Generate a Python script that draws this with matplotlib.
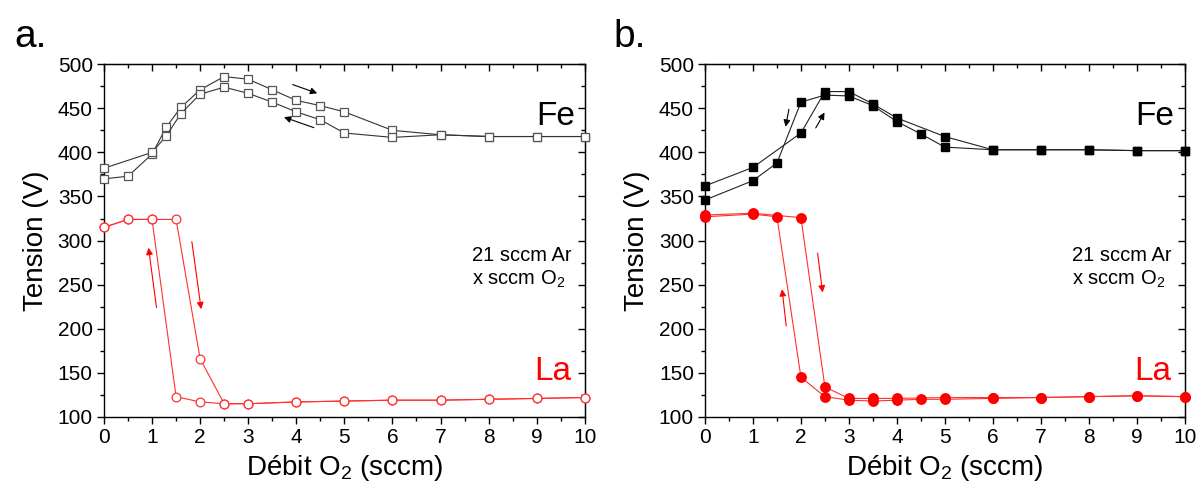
import numpy as np
import matplotlib.pyplot as plt
from matplotlib.ticker import MultipleLocator

plt.rcParams['font.family'] = ['Liberation Sans', 'DejaVu Sans']
plt.rcParams['mathtext.fontset'] = 'custom'
plt.rcParams['mathtext.rm'] = 'Liberation Sans'
plt.rcParams['mathtext.it'] = 'Liberation Sans'

# ---- panel a : open symbols ----
a_fe_up_x = [0, 0.5, 1, 1.3, 1.6, 2, 2.5, 3, 3.5, 4, 4.5, 5, 6, 7, 8, 9, 10]
a_fe_up_y = [370, 373, 398, 429, 451, 471, 486, 483, 471, 459, 453, 446, 425, 420, 418, 418, 418]
a_fe_dn_x = [10, 9, 8, 7, 6, 5, 4.5, 4, 3.5, 3, 2.5, 2, 1.6, 1.3, 1, 0]
a_fe_dn_y = [418, 418, 418, 420, 417, 422, 437, 446, 457, 467, 474, 466, 444, 419, 400, 382]

a_la_up_x = [0, 0.5, 1, 1.5, 2, 2.5, 3, 4, 5, 6, 7, 8, 9, 10]
a_la_up_y = [315, 324, 324, 324, 166, 115, 115, 117, 118, 119, 119, 120, 121, 122]
a_la_dn_x = [10, 9, 8, 7, 6, 5, 4, 3, 2.5, 2, 1.5, 1, 0.5, 0]
a_la_dn_y = [122, 121, 120, 119, 119, 118, 117, 115, 115, 117, 123, 324, 324, 315]

# ---- panel b : filled symbols ----
b_fe_up_x = [0, 1, 2, 2.5, 3, 3.5, 4, 5, 6, 7, 8, 9, 10]
b_fe_up_y = [362, 383, 422, 469, 469, 455, 439, 418, 403, 403, 403, 402, 402]
b_fe_dn_x = [10, 9, 8, 7, 6, 5, 4.5, 4, 3.5, 3, 2.5, 2, 1.5, 1, 0]
b_fe_dn_y = [402, 402, 403, 403, 403, 406, 421, 435, 453, 464, 465, 457, 388, 368, 346]

b_la_up_x = [0, 1, 2, 2.5, 3, 3.5, 4, 5, 6, 7, 8, 9, 10]
b_la_up_y = [329, 331, 326, 134, 121, 121, 121, 122, 122, 122, 123, 124, 123]
b_la_dn_x = [10, 9, 8, 7, 6, 5, 4.5, 4, 3.5, 3, 2.5, 2, 1.5, 1, 0]
b_la_dn_y = [123, 124, 123, 122, 121, 120, 120, 119, 118, 119, 123, 145, 327, 330, 327]

# arrows (tail, head) in data units
a_arrows = [((3.87, 478), (4.49, 466), 'black'), ((4.42, 427), (3.69, 441), 'black'),
            ((1.10, 221), (0.92, 295), 'red'), ((1.82, 302), (2.03, 219), 'red')]
b_arrows = [((1.76, 452), (1.67, 426), 'black'), ((2.28, 425), (2.52, 448), 'black'),
            ((1.70, 200), (1.60, 248), 'red'), ((2.34, 289), (2.46, 238), 'red')]

fig = plt.figure(figsize=(11.99, 4.94), dpi=100)
ax_a = fig.add_axes([0.0867, 0.156, 0.401, 0.714])
ax_b = fig.add_axes([0.588, 0.156, 0.400, 0.714])


def style(ax):
    ax.set_xlim(0, 10)
    ax.set_ylim(100, 500)
    ax.xaxis.set_major_locator(MultipleLocator(1))
    ax.xaxis.set_minor_locator(MultipleLocator(0.5))
    ax.yaxis.set_major_locator(MultipleLocator(50))
    ax.yaxis.set_minor_locator(MultipleLocator(25))
    ax.tick_params(which='major', direction='out', length=5, width=1, labelsize=15, pad=3)
    ax.tick_params(which='minor', direction='out', length=3, width=1)
    for s in ax.spines.values():
        s.set_linewidth(1)
    # mirrored inward ticks on top and right
    top = ax.secondary_xaxis('top')
    top.xaxis.set_major_locator(MultipleLocator(1))
    top.xaxis.set_minor_locator(MultipleLocator(0.5))
    top.tick_params(which='major', direction='in', length=5, width=1, labeltop=False)
    top.tick_params(which='minor', direction='in', length=3, width=1)
    right = ax.secondary_yaxis('right')
    right.yaxis.set_major_locator(MultipleLocator(50))
    right.yaxis.set_minor_locator(MultipleLocator(25))
    right.tick_params(which='major', direction='in', length=5, width=1, labelright=False)
    right.tick_params(which='minor', direction='in', length=3, width=1)
    ax.set_xlabel('Débit O$_2$ (sccm)', fontsize=20, labelpad=4)
    ax.set_ylabel('Tension (V)', fontsize=20, labelpad=6)
    ax.text(7.65, 277, '21 sccm Ar', fontsize=14.5)
    ax.text(7.65, 250, 'x sccm O$_2$', fontsize=14.5)
    ax.text(9.79, 431, 'Fe', fontsize=24, ha='right', va='baseline')
    ax.text(9.72, 142, 'La', fontsize=24, ha='right', va='baseline', color='red')


# panel a
ax = ax_a
for xs, ys in [(a_fe_up_x, a_fe_up_y), (a_fe_dn_x, a_fe_dn_y)]:
    ax.plot(xs, ys, color='#333333', lw=0.8, marker='s', ms=5.8,
            mfc='white', mec='#555555', mew=0.9, clip_on=False, zorder=3)
for xs, ys in [(a_la_up_x, a_la_up_y), (a_la_dn_x, a_la_dn_y)]:
    ax.plot(xs, ys, color='#ff3030', lw=0.8, marker='o', ms=6.3,
            mfc='white', mec='#ff3030', mew=0.9, clip_on=False, zorder=3)
for tail, head, c in a_arrows:
    ax.annotate('', xy=head, xytext=tail,
                arrowprops=dict(arrowstyle='-|>', color=c, lw=0.8, mutation_scale=10))
style(ax)
fig.text(0.012, 0.905, 'a.', fontsize=28)

# panel b
ax = ax_b
for xs, ys in [(b_fe_up_x, b_fe_up_y), (b_fe_dn_x, b_fe_dn_y)]:
    ax.plot(xs, ys, color='#222222', lw=0.8, marker='s', ms=6,
            mfc='black', mec='black', clip_on=False, zorder=3)
for xs, ys in [(b_la_up_x, b_la_up_y), (b_la_dn_x, b_la_dn_y)]:
    ax.plot(xs, ys, color='#ff3030', lw=0.8, marker='o', ms=6.8,
            mfc='red', mec='red', clip_on=False, zorder=3)
for tail, head, c in b_arrows:
    ax.annotate('', xy=head, xytext=tail,
                arrowprops=dict(arrowstyle='-|>', color=c, lw=0.8, mutation_scale=10))
style(ax)
fig.text(0.512, 0.905, 'b.', fontsize=28)

fig.savefig('out.png', dpi=100)
